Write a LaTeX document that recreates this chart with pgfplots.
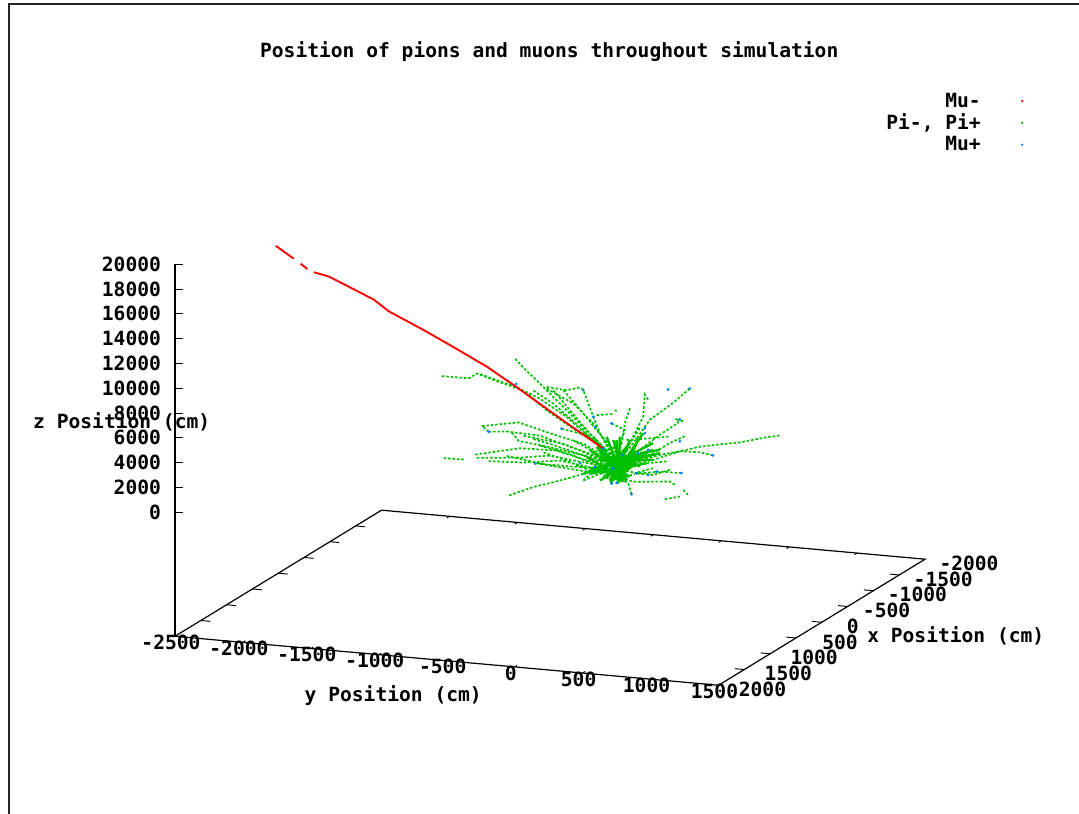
\documentclass[border=0pt]{standalone}
\usepackage{fontspec}
\setmainfont{DejaVu Sans Mono}
\usepackage{pgfplots}
\pgfplotsset{compat=1.18}
\definecolor{muminus}{RGB}{255,0,0}
\definecolor{pions}{RGB}{0,192,0}
\definecolor{muplus}{RGB}{0,128,255}
\begin{document}
\begin{tikzpicture}
\useasboundingbox (0,0) rectangle (809.25pt,610.5pt);
\draw[line width=1.5pt,black!85] (6.75pt,0) -- (6.75pt,607.5pt) -- (809.25pt,607.5pt);
\begin{axis}[
    at={(463.46pt,250.6pt)}, anchor=origin,
    x={(-0.03872pt,-0.02363pt)},
    y={(0.10191pt,-0.00919pt)},
    z={(0pt,0.0093pt)},
    xmin=-2000, xmax=2000,
    ymin=-2500, ymax=1500,
    zmin=-10000, zmax=20000,
    xtick={-2000,-1500,-1000,-500,0,500,1000,1500,2000},
    xticklabels={-2000,-1500,-1000,-500\rule{7.5pt}{0pt},0\rule{19.5pt}{0pt},500,1000,1500,2000},
    ytick={-2500,-2000,-1500,-1000,-500,0,500,1000,1500},
    ztick={0,2000,4000,6000,8000,10000,12000,14000,16000,18000,20000},
    clip=false,
    unbounded coords=jump,
    grid=none,
    axis line style={draw=none},
    major tick length=0pt,
    tick label style={font=\fontsize{14.7pt}{16pt}\bfseries\selectfont},
    /pgf/number format/assume math mode=true,
    /pgf/number format/set thousands separator={},
    scaled ticks=false,
    x tick label style={anchor=center,xshift=33pt,yshift=-3pt},
    y tick label style={anchor=center,xshift=-3pt,yshift=-4.5pt},
    z tick label style={anchor=east,xshift=-7pt},
    label style={font=\fontsize{14.7pt}{16pt}\bfseries\selectfont},
    title style={font=\fontsize{14.7pt}{16pt}\bfseries\selectfont,at={(axis description cs:0.499,1.144)},anchor=center},
    title={Position of pions and muons throughout simulation},
    xlabel={x Position (cm)},
    ylabel={y Position (cm)},
    zlabel={z Position (cm)},
    xlabel style={at={(axis description cs:1.041,0.091)},anchor=center,rotate=0,sloped=false},
    ylabel style={at={(axis description cs:0.291,-0.018)},anchor=center,rotate=0,sloped=false},
    zlabel style={at={(axis description cs:-0.071,0.482)},anchor=center,rotate=-90,sloped=false},
    legend style={draw=none,fill=none,at={(axis description cs:1.131,1.088)},anchor=north east,
        font=\fontsize{14.7pt}{16pt}\bfseries\selectfont,legend plot pos=right,row sep=-0.5pt,inner sep=0pt},
    legend cell align=right,
]
\addlegendimage{only marks,mark=*,mark size=0.6pt,muminus}
\addlegendentry{Mu-\rule{28.5pt}{0pt}}
\addlegendimage{only marks,mark=*,mark size=0.6pt,pions}
\addlegendentry{Pi-, Pi+\rule{28.5pt}{0pt}}
\addlegendimage{only marks,mark=*,mark size=0.6pt,muplus}
\addlegendentry{Mu+\rule{28.5pt}{0pt}}

% frame of the base and the z axis
\draw[black,line width=0.9pt] (axis cs:2000,-2500,20000) -- (axis cs:2000,-2500,-10000);
\draw[black,line width=0.9pt] (axis cs:2000,-2500,-10000) -- (axis cs:-2000,-2500,-10000)
    -- (axis cs:-2000,1500,-10000) -- (axis cs:2000,1500,-10000) -- cycle;
% ticks only on the base and the one z edge
\pgfplotsinvokeforeach{-1500,-1000,-500,0,500,1000,1500}{
    \draw[black,line width=0.7pt] (axis cs:#1,-2500,-10000) -- (axis cs:#1,-2430,-10000);
    \draw[black,line width=0.7pt] (axis cs:#1,1500,-10000) -- (axis cs:#1,1430,-10000);
}
\pgfplotsinvokeforeach{-2000,-1500,-1000,-500,0,500,1000}{
    \draw[black,line width=0.7pt] (axis cs:1950,#1,-10000) -- (axis cs:2000,#1,-10000);
    \draw[black,line width=0.7pt] (axis cs:-1950,#1,-10000) -- (axis cs:-2000,#1,-10000);
}
\pgfplotsinvokeforeach{0,2000,4000,6000,8000,10000,12000,14000,16000,18000,20000}{
    \draw[black,line width=0.8pt] (axis cs:2000,-2500,#1) -- ++(6pt,0pt);
}

% pion tracks, each row one track (x is taken as 0 throughout)
\addplot3[pions,line width=1.25pt,dash pattern=on 1.9pt off 1.4pt,forget plot] coordinates {
(0,-756,9013) (0,-676,8155) (0,-585,7307) (0,-451,5966) (0,-279,4260) (0,-132,2797) (0,-10,1308) (0,nan,nan)
(0,-1295,7086) (0,-1099,7107) (0,-1038,7551) (0,-867,7005) (0,-695,6514) (0,-524,5077) (0,-328,3802) (0,-157,2771) (0,-10,1308) (0,nan,nan)
(0,-1013,7523) (0,-744,6731) (0,-573,5970) (0,-377,4695) (0,-132,2527) (0,-10,1308) (0,nan,nan)
(0,-524,6967) (0,-377,6855) (0,-279,7176) (0,-255,6986) (0,-181,4905) (0,-132,3607) (0,-10,1308) (0,nan,nan)
(0,-524,6832) (0,-328,5827) (0,-181,4365) (0,-83,2850) (0,-10,1308) (0,nan,nan)
(0,-157,5066) (0,-35,5278) (0,nan,nan)
(0,-22,5615) (0,-10,5520) (0,nan,nan)
(0,88,5868) (0,51,4614) (0,27,2968) (0,-10,1308) (0,nan,nan)
(0,222,6687) (0,198,7066) (0,186,5298) (0,112,3599) (0,14,1334) (0,nan,nan)
(0,528,7879) (0,406,6614) (0,235,5080) (0,112,3059) (0,-10,1308) (0,nan,nan)
(0,479,5208) (0,430,5290) (0,443,5033) (0,308,3944) (0,161,2572) (0,14,1334) (0,nan,nan)
(0,492,4006) (0,381,3348) (0,259,2407) (0,63,1252) (0,nan,nan)
(0,1189,4753) (0,1091,4513) (0,895,3899) (0,748,3606) (0,602,3260) (0,455,2752) (0,259,1867) (0,14,1064) (0,nan,nan)
(0,699,2663) (0,602,2828) (0,455,2752) (0,308,2324) (0,63,1252) (0,nan,nan)
(0,467,1010) (0,308,974) (0,161,682) (0,14,794) (0,nan,nan)
(0,418,12) (0,381,243) (0,137,-19) (0,63,37) (0,nan,nan)
(0,516,-693) (0,479,-327) (0,nan,nan)
(0,345,-1228) (0,455,-893) (0,nan,nan)
(0,100,-1058) (0,76,-220) (0,39,11) (0,nan,nan)
(0,-800,-2050) (0,-622,-1184) (0,-451,-568) (0,-340,-126) (0,-255,236) (0,-10,1038) (0,nan,nan)
(0,-1283,484) (0,-1123,520) (0,nan,nan)
(0,-1050,1003) (0,-720,1844) (0,-451,1916) (0,-230,1342) (0,-10,1038) (0,nan,nan)
(0,-1038,747) (0,-720,1088) (0,-499,1459) (0,-206,1098) (0,-10,1038) (0,nan,nan)
(0,-952,568) (0,-695,709) (0,-426,1132) (0,-157,746) (0,nan,nan)
(0,-610,720) (0,-279,750) (0,-10,903) (0,nan,nan)
(0,-952,2944) (0,-1001,3351) (0,-732,3909) (0,-451,3131) (0,-255,2666) (0,-10,1308) (0,nan,nan)
(0,-952,2944) (0,-818,3089) (0,-573,3000) (0,-279,2100) (0,-10,1038) (0,nan,nan)
(0,-781,3047) (0,-732,2424) (0,-499,2134) (0,-206,1638) (0,-10,1173) (0,nan,nan)
(0,-695,2869) (0,-402,2508) (0,-83,1500) (0,nan,nan)
(0,-414,3710) (0,-230,3367) (0,-83,2310) (0,nan,nan)
(0,-255,-304) (0,-157,881) (0,nan,nan)
(0,-47,-351) (0,-10,1038) (0,nan,nan)
(0,-622,2677) (0,-499,2404) (0,-255,1721) (0,-35,1012) (0,nan,nan)
(0,-573,2190) (0,-328,1642) (0,-108,798) (0,nan,nan)
(0,-548,1676) (0,-377,1185) (0,-157,341) (0,nan,nan)
(0,-818,1118) (0,-499,649) (0,-206,423) (0,nan,nan)
(0,-328,2857) (0,-157,1961) (0,-10,1308) (0,nan,nan)
(0,-475,6750) (0,-353,5261) (0,-206,3528) (0,-35,1822) (0,nan,nan)
(0,-402,6828) (0,-304,5718) (0,-157,3851) (0,-10,2118) (0,nan,nan)
(0,-622,6592) (0,-475,5670) (0,-279,3990) (0,-83,2040) (0,nan,nan)
(0,63,3277) (0,259,3622) (0,381,3888) (0,nan,nan)
(0,308,2459) (0,161,1762) (0,nan,nan)
(0,259,1192) (0,161,817) (0,63,307) (0,nan,nan)
(0,357,1837) (0,210,1544) (0,63,982) (0,nan,nan)
(0,381,1188) (0,259,652) (0,137,656) (0,nan,nan)
(0,-47,4509) (0,51,4074) (0,2,2401) (0,nan,nan)
(0,161,4327) (0,88,3033) (0,14,2144) (0,nan,nan)
(0,-255,-304) (0,-132,367) (0,-10,768)
};
% dense core of the shower
\addplot3[pions,line width=1.8pt,forget plot] coordinates {
(0,-10,3198) (0,-10,-42) (0,nan,nan)
(0,-108,933) (0,137,2276) (0,nan,nan)
(0,-206,693) (0,308,2459) (0,nan,nan)
(0,-83,3390) (0,39,11) (0,nan,nan)
(0,-157,2501) (0,39,11) (0,nan,nan)
(0,88,3303) (0,-35,-68) (0,nan,nan)
(0,-255,236) (0,210,2354) (0,nan,nan)
(0,137,3086) (0,14,-151) (0,nan,nan)
(0,-230,1612) (0,63,37) (0,nan,nan)
(0,-132,367) (0,259,2677) (0,nan,nan)
(0,186,3948) (0,-35,202) (0,nan,nan)
(0,14,3494) (0,2,-299) (0,nan,nan)
(0,-181,3285) (0,-10,498) (0,nan,nan)
(0,-83,1230) (0,112,1169) (0,nan,nan)
(0,-83,420) (0,112,1979) (0,nan,nan)
(0,-157,611) (0,186,2328) (0,nan,nan)
(0,-108,123) (0,235,2650) (0,nan,nan)
(0,-206,2178) (0,88,333) (0,nan,nan)
(0,-35,2632) (0,161,1222) (0,nan,nan)
(0,63,2737) (0,-83,15) (0,nan,nan)
(0,-132,1447) (0,259,1867) (0,nan,nan)
(0,-59,-94) (0,39,2171) (0,nan,nan)
(0,-35,3172) (0,63,37) (0,nan,nan)
(0,-206,288) (0,210,1544) (0,nan,nan)
(0,-132,-173) (0,161,2032) (0,nan,nan)
(0,-59,-229) (0,137,1466) (0,nan,nan)
(0,39,-124) (0,-83,2040) (0,nan,nan)
(0,112,2249) (0,259,3217) (0,nan,nan)
(0,161,2302) (0,308,2729)
};
% Mu- track
\addplot3[muminus,line width=1.4pt,forget plot] coordinates {
(0,-2518,16386) (0,-2386,15475) (0,nan,nan)
(0,-2335,15125) (0,-2286,14748) (0,nan,nan)
(0,-2239,14539) (0,-2127,14294) (0,-2017,13788) (0,-1797,12762) (0,-1687,11932)
(0,-1430,10668) (0,-1234,9639) (0,-964,8170) (0,-744,6729) (0,-377,4207) (0,-109,2422)
};
% Mu+ points
\addplot3[only marks,mark=*,mark size=0.85pt,muplus,forget plot] coordinates {
(0,-749,6996) (0,-255,6986) (0,369,7655) (0,528,7879) (0,-952,2944) (0,-414,3710)
(0,-47,4509) (0,-181,4905) (0,-169,4108) (0,198,4366) (0,198,3961) (0,455,5317)
(0,699,2663) (0,467,1010) (0,-610,720) (0,-279,1074) (0,-108,2418) (0,34,2030)
(0,-35,877) (0,-169,868) (0,100,-1058) (0,-47,-351) (0,-10,-258) (0,284,948)
(0,222,612) (0,137,656) (0,149,2289) (0,455,3562) (0,222,2637)
};
\end{axis}
\end{tikzpicture}
\end{document}
